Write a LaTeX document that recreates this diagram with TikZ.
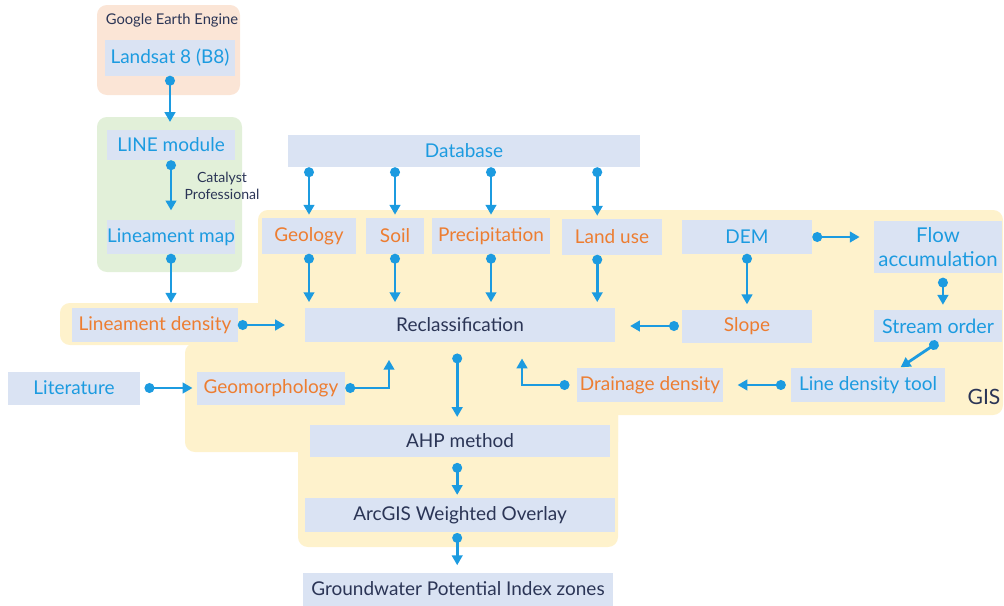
\documentclass[tikz,border=0pt]{standalone}
\usepackage{fontspec}
\setmainfont{Lato}
\usetikzlibrary{arrows.meta,calc}
\definecolor{boxfill}{HTML}{DAE3F3}
\definecolor{txtblue}{HTML}{1C9BE0}
\definecolor{txtorange}{HTML}{ED7D31}
\definecolor{txtnavy}{HTML}{2B3556}
\definecolor{gisfill}{HTML}{FEF2CC}
\definecolor{geefill}{HTML}{FBE5D6}
\definecolor{linefill}{HTML}{E2F0D9}

\begin{document}
\begin{tikzpicture}[
    x=0.025cm, y=-0.025cm,
    box/.style={
        fill=boxfill,
        inner sep=0pt,
        align=center,
        font=\fontsize{13.5}{15.5}\selectfont
    },
    src/.style={box, text=txtblue},
    lyr/.style={box, text=txtorange},
    proc/.style={box, text=txtnavy},
    note/.style={text=txtnavy, align=center, font=\fontsize{10.5}{12}\selectfont},
    line/.style={draw=txtblue, line width=2pt,
        {Circle[length=7pt]}-{Triangle[length=7pt,width=7.5pt]},
        shorten <=0pt, shorten >=3.5pt}
]
\useasboundingbox (0,0) rectangle (1004,605);

% background regions
\fill[geefill, rounded corners=7pt] (97,5) rectangle (240,95);
\fill[linefill, rounded corners=7pt] (97,117) rectangle (242,272);
\fill[gisfill, rounded corners=7pt] (258,210) rectangle (1003,415);
\fill[gisfill, rounded corners=7pt] (60,303) rectangle (270,345);
\fill[gisfill, rounded corners=7pt] (185,343) rectangle (618,452);
\fill[gisfill, rounded corners=7pt] (298,400) rectangle (618,547);

\node[note] (gee) at (172,20) {Google Earth Engine};
\node[note, font=\fontsize{10}{12}\selectfont] (catalyst) at (222,186) {Catalyst\\Professional};
\node[text=txtnavy, font=\fontsize{15}{17}\selectfont] (gis) at (984,397) {GIS};

% sources
\node[src, minimum width=3.25cm, minimum height=0.875cm] (landsat) at (170,58) {Landsat 8 (B8)};
\node[src, minimum width=3.2cm, minimum height=0.75cm] (linemod) at (171,145) {LINE module};
\node[src, minimum width=3.2cm, minimum height=0.825cm] (linmap) at (171,237) {Lineament map};
\node[src, minimum width=8.8cm, minimum height=0.8cm] (database) at (464,151) {Database};
\node[src, minimum width=3.3cm, minimum height=0.825cm] (literature) at (74,388) {Literature};
\node[src, minimum width=3.25cm, minimum height=0.825cm] (dem) at (747,237) {DEM};
\node[src, minimum width=3.2cm, minimum height=1.275cm, font=\fontsize{14.5}{17}\selectfont] (flow) at (938,247) {Flow\\accumulation};
\node[src, minimum width=3.2cm, minimum height=0.8cm, font=\fontsize{14}{16}\selectfont] (stream) at (938,326) {Stream order};
\node[src, minimum width=3.85cm, minimum height=0.85cm] (linedens) at (868,385) {Line density tool};

% thematic layers
\node[lyr, minimum width=2.35cm, minimum height=0.875cm] (geology) at (309,236) {Geology};
\node[lyr, minimum width=1.425cm, minimum height=0.875cm] (soil) at (395,236) {Soil};
\node[lyr, minimum width=2.95cm, minimum height=0.875cm] (precip) at (491,236) {Precipitation};
\node[lyr, minimum width=2.5cm, minimum height=0.875cm] (landuse) at (612,237) {Land use};
\node[lyr, minimum width=3.25cm, minimum height=0.825cm] (slope) at (747,326) {Slope};
\node[lyr, minimum width=4.125cm, minimum height=0.85cm] (lindens) at (155,325) {Lineament density};
\node[lyr, minimum width=3.7cm, minimum height=0.825cm] (geomorph) at (271,388) {Geomorphology};
\node[lyr, minimum width=3.625cm, minimum height=0.85cm] (drainage) at (650,385) {Drainage density};

% processing
\node[proc, minimum width=7.75cm, minimum height=0.85cm] (reclass) at (460,325) {Reclassification};
\node[proc, minimum width=7.5cm, minimum height=0.8cm] (ahp) at (460,441) {AHP method};
\node[proc, minimum width=7.75cm, minimum height=0.85cm] (arcgis) at (460,515) {ArcGIS Weighted Overlay};
\node[proc, minimum width=7.75cm, minimum height=0.825cm] (gw) at (458,589) {Groundwater Potential Index zones};

\coordinate (geoin) at ($(reclass.south)+(-71,0)$);
\coordinate (drin) at ($(reclass.south)+(62,0)$);
\coordinate (ldin) at ($(linedens.north)+(32,0)$);

\draw[line, shorten >=5.5pt] (landsat.south) -- (landsat.south |- linemod.north);
\draw[line, shorten >=7pt] (linemod.south) -- (linemod.south |- linmap.north);
\draw[line] (linmap.south) -- (linmap.south |- lindens.north);
\draw[line, shorten >=14pt] (lindens.east) -- (lindens.east -| reclass.west);

\draw[line, shorten >=2.5pt] (geology.north |- database.south) -- (geology.north);
\draw[line, shorten >=2.5pt] (soil.north |- database.south) -- (soil.north);
\draw[line, shorten >=2.5pt] (precip.north |- database.south) -- (precip.north);
\draw[line, shorten >=2.5pt] ([xshift=-10.5pt]landuse.north |- database.south) -- ([xshift=-10.5pt]landuse.north);

\draw[line, shorten >=4pt] (geology.south) -- (geology.south |- reclass.north);
\draw[line, shorten >=4pt] (soil.south) -- (soil.south |- reclass.north);
\draw[line, shorten >=4pt] (precip.south) -- (precip.south |- reclass.north);
\draw[line, shorten >=4pt] ([xshift=-10.5pt]landuse.south) -- ([xshift=-10.5pt]landuse.south |- reclass.north);

\draw[line, shorten >=10pt] (dem.east) -- (dem.east -| flow.west);
\draw[line] (dem.south) -- (slope.north);
\draw[line, shorten <=3.5pt] ([xshift=3.5pt]flow.south) -- ([xshift=3.5pt]stream.north);
\draw[line, shorten >=0.5pt] (stream.south) -- (ldin);
\draw[line, shorten <=3.5pt, shorten >=10.5pt] (linedens.west) -- (drainage.east);
\draw[line, shorten <=2pt, shorten >=10.5pt] (slope.west) -- (slope.west -| reclass.east);

\draw[line, shorten <=3pt, shorten >=3pt] (literature.east) -- (geomorph.west);
\draw[line, shorten >=12.5pt] (geomorph.east) -| (geoin);
\draw[line, shorten <=5.5pt, shorten >=11.5pt] (drainage.west) -| (drin);

\draw[line, shorten <=8pt, shorten >=5.5pt] ([xshift=-2pt]reclass.south) -- ([xshift=-2pt]ahp.north);
\draw[line, shorten <=4pt, shorten >=2pt] ([xshift=-2pt]ahp.south) -- ([xshift=-2pt]arcgis.north);
\draw[line, shorten <=0.5pt, shorten >=5pt] ([xshift=-2pt]arcgis.south) -- ([xshift=-2pt]arcgis.south |- gw.north);

\end{tikzpicture}
\end{document}
